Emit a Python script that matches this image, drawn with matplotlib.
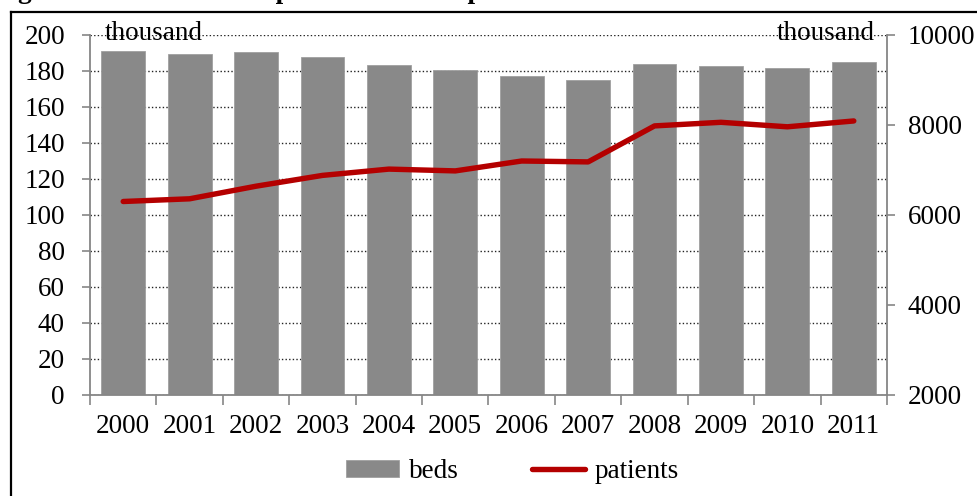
import matplotlib

matplotlib.use("Agg")

import matplotlib.pyplot as plt
import numpy as np
from matplotlib.lines import Line2D

plt.rcParams["font.family"] = ["Liberation Serif", "DejaVu Serif"]

years = ["2000", "2001", "2002", "2003", "2004", "2005",
         "2006", "2007", "2008", "2009", "2010", "2011"]
beds = [191.3, 189.3, 190.5, 187.8, 183.3, 180.5, 177.2, 175.0, 183.9, 182.8, 181.7, 185.0]
patients = [6300, 6360, 6640, 6880, 7020, 6980, 7200, 7180, 7980, 8060, 7960, 8090]

left_ticks = list(range(0, 201, 20))
right_ticks = [2000, 4000, 6000, 8000, 10000]

BAR_COLOR = "#898989"
LINE_COLOR = "#B40000"
SPINE_COLOR = "#868686"
FS = 19.5

fig = plt.figure(figsize=(9.78, 4.96), dpi=100)
ax = fig.add_axes([90 / 978, 1 - 395 / 496, (887 - 90) / 978, 360 / 496])
ax2 = ax.twinx()

x = np.arange(len(years))
ax.bar(x, beds, width=0.66, color=BAR_COLOR, edgecolor="#a0a0a0", linewidth=0.6,
       label="beds", zorder=2)
ax2.plot(x, patients, color=LINE_COLOR, linewidth=3.9, solid_capstyle="round",
         label="patients", zorder=3)

ax.set_xlim(-0.5, len(years) - 0.5)
ax.set_ylim(0, 200)
ax2.set_ylim(2000, 10000)
ax.set_yticks(left_ticks)
ax2.set_yticks(right_ticks)

ax.set_xticks(x)
ax.set_xticklabels(years, fontsize=FS)
ax.set_xticks(np.arange(-0.5, len(years), 1), minor=True)
ax.tick_params(axis="x", which="major", length=0, pad=14)
ax.tick_params(axis="x", which="minor", length=7, color=SPINE_COLOR, width=1.2)
ax.tick_params(axis="y", labelsize=FS, length=6, color=SPINE_COLOR, width=1.2, pad=12)
ax2.tick_params(axis="y", labelsize=FS, length=6, color=SPINE_COLOR, width=1.2, pad=9)

ax.set_axisbelow(True)
ax.yaxis.grid(True, linestyle=(0, (1, 1.6)), color="#222222", linewidth=1.0, zorder=0)

for a in (ax, ax2):
    a.spines["top"].set_visible(False)
    for side in ("left", "right", "bottom"):
        a.spines[side].set_color(SPINE_COLOR)
        a.spines[side].set_linewidth(1.3)
ax2.spines["left"].set_visible(False)
ax2.spines["bottom"].set_visible(False)
ax.spines["right"].set_visible(False)

ax.text(0.018, 1.003, "thousand", transform=ax.transAxes, fontsize=FS,
        ha="left", va="center", zorder=5)
ax2.text(0.985, 1.003, "thousand", transform=ax.transAxes, fontsize=FS,
         ha="right", va="center", zorder=5)

h1, l1 = ax.get_legend_handles_labels()
h2, l2 = ax2.get_legend_handles_labels()
fig.legend(h1 + h2, l1 + l2, loc="center", bbox_to_anchor=(0.524, 0.05),
           ncol=2, frameon=False, fontsize=FS, handlelength=1.95, handleheight=0.6,
           columnspacing=2.7, handletextpad=0.38)

# surrounding frame, cropped at right and bottom
fig.add_artist(Line2D([11 / 978, 11 / 978], [0, 1 - 12 / 496], color="black",
                      linewidth=1.6, transform=fig.transFigure))
fig.add_artist(Line2D([11 / 978, 1], [1 - 12 / 496, 1 - 12 / 496], color="black",
                      linewidth=1.6, transform=fig.transFigure))

# title mostly cut off at the top edge, only descenders remain
fig.text(-0.006, 1.0 + 2 / 496, "Figure 1. Number of hospital beds and inpatients",
         fontsize=FS, fontweight="bold", ha="left", va="baseline")

fig.savefig("out.png", dpi=100)
